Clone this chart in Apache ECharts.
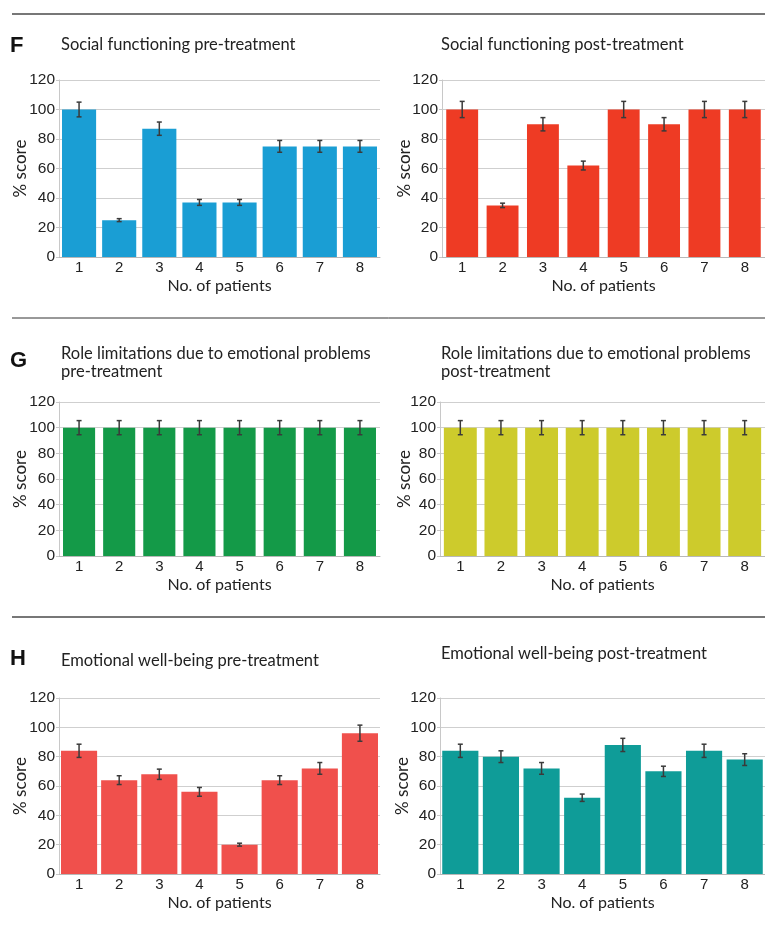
<!DOCTYPE html>
<html>
<head>
<meta charset="utf-8">
<script src="https://cdn.jsdelivr.net/npm/echarts@6/dist/echarts.min.js"></script>
<style>
  html, body { margin: 0; padding: 0; background: #fff; }
  #main { width: 765px; height: 928px; }
</style>
</head>
<body>
<div id="main"></div>
<script>
const patients = ['1', '2', '3', '4', '5', '6', '7', '8'];
const yTicks = [0, 20, 40, 60, 80, 100, 120];

const socialPre = [100, 25, 87, 37, 37, 75, 75, 75];
const socialPreErr = [5, 1, 4.5, 2, 2, 4, 4, 4];
const socialPost = [100, 35, 90, 62, 100, 90, 100, 100];
const socialPostErr = [5.5, 1.5, 4.5, 3, 5.5, 4.5, 5.5, 5.5];

const roleLimPre = [100, 100, 100, 100, 100, 100, 100, 100];
const roleLimPreErr = [5.5, 5.5, 5.5, 5.5, 5.5, 5.5, 5.5, 5.5];
const roleLimPost = [100, 100, 100, 100, 100, 100, 100, 100];
const roleLimPostErr = [5.5, 5.5, 5.5, 5.5, 5.5, 5.5, 5.5, 5.5];

const emotionalPre = [84, 64, 68, 56, 20, 64, 72, 96];
const emotionalPreErr = [4.5, 3, 3.5, 3, 1, 3, 4, 5.5];
const emotionalPost = [84, 80, 72, 52, 88, 70, 84, 78];
const emotionalPostErr = [4.5, 4, 4, 2.5, 4.5, 3.5, 4.5, 4];

// panel layout: grid box, bar gap, colour, gap of the "% score" name
const panels = [
  { values: socialPre, errors: socialPreErr, color: '#1a9ed4', grid: { left: 59, top: 80, width: 321, height: 177 }, gap: '15%', nameGap: 30 },
  { values: socialPost, errors: socialPostErr, color: '#ee3b24', grid: { left: 442, top: 80, width: 323, height: 177 }, gap: '21%', nameGap: 29 },
  { values: roleLimPre, errors: roleLimPreErr, color: '#149a48', grid: { left: 59, top: 402, width: 321, height: 154 }, gap: '20%', nameGap: 30 },
  { values: roleLimPost, errors: roleLimPostErr, color: '#cdcb2c', grid: { left: 440, top: 402, width: 325, height: 154 }, gap: '19%', nameGap: 27 },
  { values: emotionalPre, errors: emotionalPreErr, color: '#f0504c', grid: { left: 59, top: 698, width: 321, height: 176 }, gap: '10%', nameGap: 30 },
  { values: emotionalPost, errors: emotionalPostErr, color: '#0f9c98', grid: { left: 440, top: 698, width: 325, height: 176 }, gap: '11%', nameGap: 29 }
];

const titleFont = 'Lato, "Open Sans", sans-serif';
const tickFont = '"Liberation Sans", Arial, sans-serif';

const titles = [
  { text: 'Social functioning pre-treatment', left: 61, top: 36 },
  { text: 'Social functioning post-treatment', left: 441, top: 36 },
  { text: 'Role limitations due to emotional problems\npre-treatment', left: 61, top: 345 },
  { text: 'Role limitations due to emotional problems\npost-treatment', left: 441, top: 345 },
  { text: 'Emotional well-being pre-treatment', left: 61, top: 652 },
  { text: 'Emotional well-being post-treatment', left: 441, top: 645 }
].map(t => ({
  text: t.text,
  left: t.left,
  top: t.top,
  padding: 0,
  textStyle: { fontFamily: titleFont, fontSize: 16.5, fontWeight: 'normal', color: '#222', lineHeight: 18 }
}));

const letters = [
  { text: 'F', y: 35 },
  { text: 'G', y: 350 },
  { text: 'H', y: 648 }
].map(l => ({
  type: 'text',
  left: 10,
  top: l.y,
  style: { text: l.text, font: 'bold 22px "Liberation Sans Narrow", "Liberation Sans", sans-serif', fill: '#111' }
}));

const separators = [
  { y: 14, color: '#777', w: 2 },
  { y: 318, color: '#333', w: 1 },
  { y: 617, color: '#777', w: 2 }
].map(s => ({
  type: 'line',
  shape: { x1: 12, y1: s.y, x2: 765, y2: s.y },
  style: { stroke: s.color, lineWidth: s.w }
}));

const grids = [];
const xAxes = [];
const yAxes = [];
const series = [];

panels.forEach((p, i) => {
  grids.push(p.grid);
  xAxes.push({
    type: 'category',
    gridIndex: i,
    data: patients,
    name: 'No. of patients',
    nameLocation: 'middle',
    nameGap: 21,
    nameMoveOverlap: false,
    nameTextStyle: { fontFamily: titleFont, fontSize: 16, color: '#222', verticalAlign: 'top' },
    axisLine: { lineStyle: { color: '#b8b8b8' } },
    axisTick: { show: false },
    axisLabel: { fontFamily: tickFont, fontSize: 15, color: '#222', margin: 3 }
  });
  yAxes.push({
    type: 'value',
    gridIndex: i,
    min: yTicks[0],
    max: yTicks[yTicks.length - 1],
    interval: 20,
    name: '% score',
    nameLocation: 'middle',
    nameGap: p.nameGap,
    nameMoveOverlap: false,
    nameTextStyle: { fontFamily: titleFont, fontSize: 17, color: '#222' },
    axisLine: { show: true, lineStyle: { color: '#c8c8c8' } },
    axisTick: { show: true, length: 3, lineStyle: { color: '#c8c8c8' } },
    axisLabel: { fontFamily: tickFont, fontSize: 15.5, color: '#222', margin: 4 },
    splitLine: { lineStyle: { color: '#cfcfcf' } }
  });
  series.push({
    type: 'bar',
    xAxisIndex: i,
    yAxisIndex: i,
    data: p.values,
    barCategoryGap: p.gap,
    itemStyle: { color: p.color },
    silent: true
  });
  series.push({
    type: 'custom',
    xAxisIndex: i,
    yAxisIndex: i,
    data: p.values.map((v, k) => [k, v - p.errors[k], v + p.errors[k]]),
    z: 10,
    renderItem: function (params, api) {
      const lo = api.coord([api.value(0), api.value(1)]);
      const hi = api.coord([api.value(0), api.value(2)]);
      const cap = 2.5;
      const st = { stroke: '#3a3a3a', lineWidth: 1.5 };
      return {
        type: 'group',
        children: [
          { type: 'line', shape: { x1: lo[0], y1: lo[1], x2: hi[0], y2: hi[1] }, style: st },
          { type: 'line', shape: { x1: hi[0] - cap, y1: hi[1], x2: hi[0] + cap, y2: hi[1] }, style: st },
          { type: 'line', shape: { x1: lo[0] - cap, y1: lo[1], x2: lo[0] + cap, y2: lo[1] }, style: st }
        ]
      };
    }
  });
});

const myChart = echarts.init(document.getElementById('main'));
myChart.setOption({
  animation: false,
  title: titles,
  grid: grids,
  xAxis: xAxes,
  yAxis: yAxes,
  series: series,
  graphic: separators.concat(letters)
});
</script>
</body>
</html>
